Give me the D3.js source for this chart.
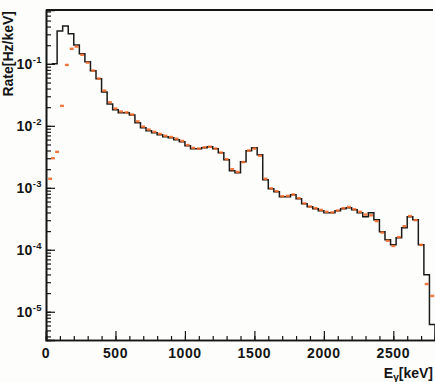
<!DOCTYPE html>
<html>
<head>
<meta charset="utf-8">
<script src="https://cdn.jsdelivr.net/npm/d3@7"></script>
<style>
  body { margin: 0; background: #fdfdfb; }
  text { font-family: "Liberation Sans", Arial, sans-serif; font-weight: bold; fill: #151515; }
</style>
</head>
<body>
<svg width="435" height="382"></svg>
<script>
// black histogram: 40 keV bins starting at 40 keV
var binWidth = 40;
var blackStart = 40;
var blackRate = [0.10, 0.340, 0.410, 0.305, 0.202, 0.145, 0.108, 0.0771, 0.0573, 0.0353,
  0.0226, 0.0181, 0.0162, 0.0162, 0.0150, 0.0112, 0.00928, 0.0083, 0.00771, 0.00716,
  0.00665, 0.0064, 0.00594, 0.00552, 0.00476, 0.00425, 0.00425, 0.00441, 0.00458, 0.00425,
  0.00367, 0.00283, 0.00188, 0.00175, 0.00263, 0.00395, 0.00441, 0.0034, 0.00135, 0.000964,
  0.000861, 0.000716, 0.000716, 0.000771, 0.000665, 0.000552, 0.000494, 0.000459, 0.000426, 0.000395,
  0.000395, 0.000426, 0.000459, 0.000476, 0.000442, 0.000395, 0.00034, 0.000395, 0.000305, 0.000195,
  0.000145, 0.00012, 0.000156, 0.000226, 0.00034, 0.000305, 0.00012, 0.0000395, 0.0000062];

// orange points (bin centres in keV)
var orangeE = [30, 50, 80, 115, 150, 185,
  220, 260, 300, 340, 380, 420, 460, 500, 540, 580, 620, 660, 700, 740,
  780, 820, 860, 900, 940, 980, 1020, 1060, 1100, 1140, 1180, 1220, 1260, 1300,
  1340, 1380, 1420, 1460, 1500, 1540, 1580, 1620, 1660, 1700, 1740, 1780, 1820, 1860,
  1900, 1940, 1980, 2020, 2060, 2100, 2140, 2180, 2220, 2260, 2300, 2340, 2380, 2420,
  2460, 2500, 2540, 2580, 2620, 2660, 2700, 2740, 2780];
var orangeRate = [0.0014, 0.0030, 0.0038, 0.021, 0.096, 0.175,
  0.19, 0.14, 0.105, 0.078, 0.058, 0.037, 0.024, 0.019, 0.017, 0.0165, 0.0152, 0.0118, 0.0097, 0.0087,
  0.0080, 0.0074, 0.0069, 0.0066, 0.0062, 0.0057, 0.0049, 0.0044, 0.0043, 0.0045, 0.0046, 0.0043, 0.0037, 0.0029,
  0.0020, 0.0018, 0.0026, 0.0040, 0.0043, 0.0033, 0.0014, 0.00098, 0.00088, 0.00073, 0.00074, 0.00078, 0.00068, 0.00056,
  0.00050, 0.00047, 0.00044, 0.00041, 0.00040, 0.00043, 0.00047, 0.00049, 0.00045, 0.00041, 0.00037, 0.00036, 0.00029, 0.00019,
  0.00014, 0.000115, 0.00016, 0.00024, 0.00035, 0.00030, 0.00012, 0.000028, 0.000018];

var xMajor = [0, 500, 1000, 1500, 2000, 2500];
var yDecades = [-1, -2, -3, -4, -5];

var svg = d3.select('svg');
var padL = 46, padR = 433, padT = 10, padB = 340;

var x = d3.scaleLinear().domain([0, 2800]).range([padL, padL + 389]);
var y = d3.scaleLog().domain([3.5e-6, 0.74]).range([padB, padT]);

// black histogram as steps
var pts = [];
blackRate.forEach(function(v, i) {
  var lo = blackStart + i * binWidth;
  pts.push([x(lo), y(v)]);
  pts.push([x(lo + binWidth), y(v)]);
});
pts.push([x(2800), padB]);

svg.append('path')
  .attr('d', d3.line()(pts))
  .attr('fill', 'none')
  .attr('stroke', '#1b1b1b')
  .attr('stroke-width', 1.5);

// orange dashes
svg.selectAll('.dash')
  .data(orangeE)
  .enter()
  .append('line')
  .attr('class', 'dash')
  .attr('x1', function(d){ return x(d - 14); })
  .attr('x2', function(d){ return x(d + 14); })
  .attr('y1', function(d, i){ return y(orangeRate[i]); })
  .attr('y2', function(d, i){ return y(orangeRate[i]); })
  .attr('stroke', '#f06a2c')
  .attr('stroke-width', 2.4)
  .attr('opacity', 0.9);

// axes
var minorX = d3.range(0, 2800, 100);
svg.append('g')
  .attr('transform', 'translate(0,' + padB + ')')
  .call(d3.axisTop(x).tickValues(minorX).tickSize(4).tickFormat(''));
svg.append('g')
  .attr('transform', 'translate(0,' + padB + ')')
  .call(d3.axisTop(x).tickValues(xMajor).tickSize(9).tickFormat(''));

var minorY = y.ticks().filter(function(v){ return v >= 3.5e-6 && v <= 0.74; });
svg.append('g')
  .attr('transform', 'translate(' + padL + ',0)')
  .call(d3.axisRight(y).tickValues(minorY).tickSize(5).tickFormat(''));
svg.append('g')
  .attr('transform', 'translate(' + padL + ',0)')
  .call(d3.axisRight(y).tickValues(yDecades.map(function(p){ return Math.pow(10, p); })).tickSize(9).tickFormat(''));

svg.selectAll('.domain').attr('stroke', '#151515').attr('stroke-width', 1.6);
svg.selectAll('.tick line').attr('stroke', '#151515').attr('stroke-width', 1.2);

// top frame
svg.append('line')
  .attr('x1', padL).attr('x2', padR)
  .attr('y1', padT).attr('y2', padT)
  .attr('stroke', '#151515').attr('stroke-width', 2);

// x labels
svg.selectAll('.xl')
  .data(xMajor)
  .enter()
  .append('text')
  .attr('class', 'xl')
  .attr('x', function(d){ return x(d); })
  .attr('y', 358)
  .attr('text-anchor', 'middle')
  .attr('font-size', 14)
  .attr('letter-spacing', 0.6)
  .text(function(d){ return d; });

// y labels
yDecades.forEach(function(p) {
  var t = svg.append('text')
    .attr('x', 42)
    .attr('y', y(Math.pow(10, p)) + 5)
    .attr('text-anchor', 'end')
    .attr('font-size', 14)
    .attr('letter-spacing', 0.4);
  t.append('tspan').text('10');
  t.append('tspan').attr('font-size', 9.5).attr('dy', -6).text('-' + (-p));
});

// axis titles
svg.append('text')
  .attr('transform', 'translate(13,11) rotate(-90)')
  .attr('text-anchor', 'end')
  .attr('font-size', 14)
  .text('Rate[Hz/keV]');

var xt = svg.append('text')
  .attr('x', padR)
  .attr('y', 378)
  .attr('text-anchor', 'end')
  .attr('font-size', 14);
xt.append('tspan').text('E');
xt.append('tspan').attr('font-size', 10).attr('dy', 3).text('γ');
xt.append('tspan').attr('dy', -3).text('[keV]');
</script>
</body>
</html>
